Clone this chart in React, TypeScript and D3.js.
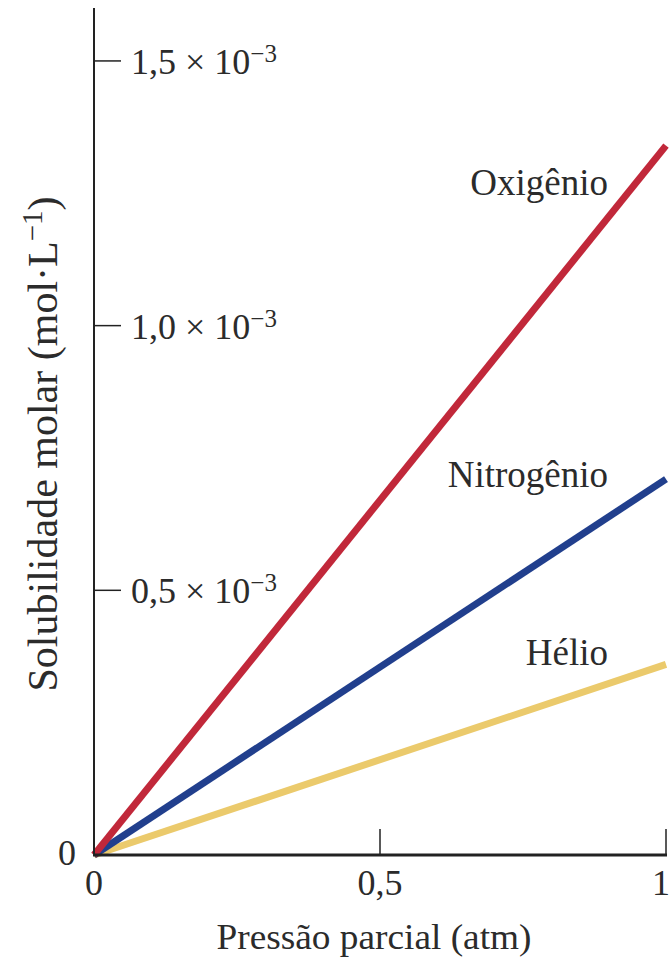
import React, { useEffect, useRef } from 'react';
import * as d3 from 'd3';

// pressure (atm) at the two ends of each line
const pressures = [0, 1];

// molar solubility (mol/L) at those pressures
const oxygen = [0, 1.34e-3];
const nitrogen = [0, 0.71e-3];
const helium = [0, 0.36e-3];

const seriesNames = ['Oxigênio', 'Nitrogênio', 'Hélio'];
const seriesColors = ['#c1283a', '#213f8d', '#ebca6c'];

const yTicks = [0.5e-3, 1.0e-3, 1.5e-3];
const yTickMantissa = ['0,5', '1,0', '1,5'];
const xTicks = [0, 0.5, 1];
const xTickLabels = ['0', '0,5', '1'];

const W = 671;
const H = 960;
const FONT = '"Liberation Serif", "DejaVu Serif", serif';
const TEXT = '#2b2b2b';

const App: React.FC = () => {
  const ref = useRef<SVGSVGElement>(null);

  useEffect(() => {
    if (!ref.current) return;
    const svg = d3.select(ref.current);
    svg.selectAll('*').remove();

    const x = d3.scaleLinear().domain([0, 1]).range([94, 666]);
    const y = d3.scaleLinear().domain([0, 1.6e-3]).range([855, 8]);

    const data = [oxygen, nitrogen, helium];

    const line = d3.line<number>()
      .x((_, i) => x(pressures[i]))
      .y(d => y(d));

    // lines (helium first so red stays on top at the origin)
    [2, 1, 0].forEach(k => {
      svg.append('path')
        .datum(data[k])
        .attr('fill', 'none')
        .attr('stroke', seriesColors[k])
        .attr('stroke-width', 7)
        .attr('d', line);
    });

    // axes
    const axisColor = '#222';
    svg.append('line')
      .attr('x1', x(0)).attr('x2', x(0))
      .attr('y1', y(1.6e-3)).attr('y2', y(0))
      .attr('stroke', axisColor).attr('stroke-width', 2);
    svg.append('line')
      .attr('x1', x(0) - 1).attr('x2', x(1) + 1)
      .attr('y1', y(0)).attr('y2', y(0))
      .attr('stroke', axisColor).attr('stroke-width', 3);

    // y ticks (pointing inward) with labels
    yTicks.forEach((t, i) => {
      svg.append('line')
        .attr('x1', x(0)).attr('x2', x(0) + 27)
        .attr('y1', y(t)).attr('y2', y(t))
        .attr('stroke', axisColor).attr('stroke-width', 1.5);
      const txt = svg.append('text')
        .attr('x', x(0) + 37)
        .attr('y', y(t) + 13)
        .attr('font-family', FONT)
        .attr('font-size', 36)
        .attr('fill', TEXT);
      txt.append('tspan').text(`${yTickMantissa[i]} × 10`);
      txt.append('tspan')
        .attr('dy', -12)
        .attr('font-size', 25)
        .text('−3');
    });

    // y zero label
    svg.append('text')
      .attr('x', 76).attr('y', y(0) + 10)
      .attr('text-anchor', 'end')
      .attr('font-family', FONT).attr('font-size', 36).attr('fill', TEXT)
      .text('0');

    // x ticks (pointing up) with labels
    xTicks.forEach((t, i) => {
      if (t > 0) {
        svg.append('line')
          .attr('x1', x(t)).attr('x2', x(t))
          .attr('y1', y(0)).attr('y2', y(0) - 26)
          .attr('stroke', axisColor).attr('stroke-width', 1.5);
      }
      const last = i === xTicks.length - 1;
      svg.append('text')
        .attr('x', last ? W - 1 : x(t))
        .attr('y', y(0) + 40)
        .attr('text-anchor', last ? 'end' : 'middle')
        .attr('font-family', FONT).attr('font-size', 36).attr('fill', TEXT)
        .text(xTickLabels[i]);
    });

    // axis titles
    svg.append('text')
      .attr('x', 374).attr('y', 949)
      .attr('text-anchor', 'middle')
      .attr('font-family', FONT).attr('font-size', 36).attr('fill', TEXT)
      .attr('textLength', 315)
      .attr('lengthAdjust', 'spacingAndGlyphs')
      .text('Pressão parcial (atm)');

    const yt = svg.append('text')
      .attr('transform', 'translate(57,444) rotate(-90)')
      .attr('text-anchor', 'middle')
      .attr('font-family', FONT).attr('font-size', 42).attr('fill', TEXT);
    yt.append('tspan').text('Solubilidade molar (mol·L');
    yt.append('tspan').attr('dy', -15).attr('font-size', 29).text('−1');
    yt.append('tspan').attr('dy', 15).text(')');

    // series labels, right-aligned, placed relative to each line's end
    const labelDy = [49, 8, 1];
    data.forEach((d, k) => {
      svg.append('text')
        .attr('x', 608)
        .attr('y', y(d[1]) + labelDy[k])
        .attr('text-anchor', 'end')
        .attr('font-family', FONT).attr('font-size', 37).attr('fill', TEXT)
        .text(seriesNames[k]);
    });
  }, []);

  return (
    <svg
      ref={ref}
      width={W}
      height={H}
      style={{ position: 'absolute', left: 0, top: 0, background: '#fff' }}
    />
  );
};

export default App;
